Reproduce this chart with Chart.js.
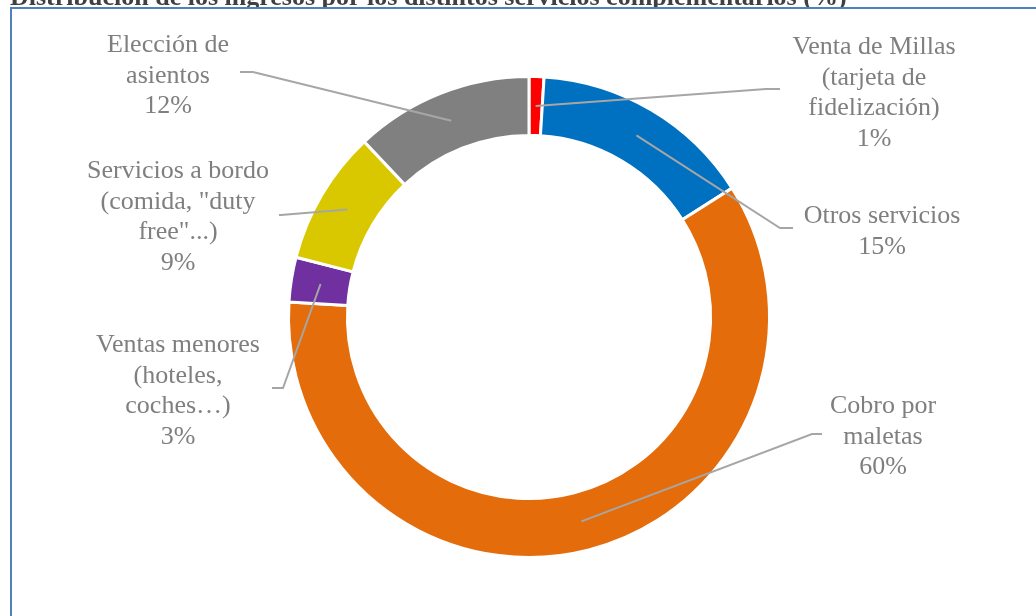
<!DOCTYPE html>
<html>
<head>
<meta charset="utf-8">
<script src="https://cdn.jsdelivr.net/npm/chart.js@4"></script>
<style>body{margin:0;background:#fff}</style>
</head>
<body>
<canvas id="donutChart" width="1036" height="616"></canvas>
<script>
const title = 'Distribución de los ingresos por los distintos servicios complementarios (%)';
const categories = [
    ['Venta de Millas', '(tarjeta de', 'fidelización)'],
    ['Otros servicios'],
    ['Cobro por', 'maletas'],
    ['Ventas menores', '(hoteles,', 'coches…)'],
    ['Servicios a bordo', '(comida, "duty', 'free"...)'],
    ['Elección de', 'asientos']
];
const shares = [1, 15, 60, 3, 9, 12];
const colors = ['#ff0000', '#0070c0', '#e46c0a', '#7030a0', '#d9c800', '#808080'];

// label text centre + first baseline, leader elbow and leader end
const labelPos = [
    { x: 874, y: 54, ex: 766, ey: 89, tx: 780 },
    { x: 882, y: 223, ex: 780, ey: 228, tx: 793 },
    { x: 883, y: 413, ex: 812, ey: 434, tx: 822 },
    { x: 178, y: 352, ex: 283, ey: 388, tx: 272 },
    { x: 178, y: 178, ex: 281, ey: 215, tx: 279 },
    { x: 168, y: 52, ex: 253, ey: 72, tx: 240 }
];

const serif = '"Liberation Serif", "Times New Roman", serif';

const framePlugin = {
    id: 'frame',
    beforeDraw(chart) {
        const ctx = chart.ctx;
        ctx.save();
        ctx.fillStyle = '#fff';
        ctx.fillRect(0, 0, chart.width, chart.height);
        ctx.fillStyle = '#404040';
        ctx.font = 'bold 26px ' + serif;
        ctx.textBaseline = 'alphabetic';
        ctx.fillText(title, 10, 5);
        ctx.fillStyle = '#fff';
        ctx.fillRect(0, 7, chart.width, chart.height);
        ctx.fillStyle = '#4f81bd';
        ctx.fillRect(10, 7, chart.width - 10, 2);
        ctx.fillRect(10, 7, 2, chart.height - 7);
        ctx.restore();
    }
};

const labelPlugin = {
    id: 'sliceLabels',
    afterDatasetsDraw(chart) {
        const ctx = chart.ctx;
        const arcs = chart.getDatasetMeta(0).data;
        ctx.save();
        ctx.strokeStyle = '#a6a6a6';
        ctx.lineWidth = 2;
        arcs.forEach((arc, i) => {
            const p = arc.getCenterPoint();
            const l = labelPos[i];
            ctx.beginPath();
            ctx.moveTo(p.x, p.y);
            ctx.lineTo(l.ex, l.ey);
            ctx.lineTo(l.tx, l.ey);
            ctx.stroke();
        });
        ctx.fillStyle = '#7f7f7f';
        ctx.font = '26px ' + serif;
        ctx.textAlign = 'center';
        ctx.textBaseline = 'alphabetic';
        categories.forEach((lines, i) => {
            const l = labelPos[i];
            lines.concat([shares[i] + '%']).forEach((t, j) => {
                ctx.fillText(t, l.x, l.y + j * 30.5);
            });
        });
        ctx.restore();
    }
};

new Chart(document.getElementById('donutChart'), {
    type: 'doughnut',
    data: {
        labels: categories.map(c => c.join(' ')),
        datasets: [{
            data: shares,
            backgroundColor: colors,
            borderColor: '#ffffff',
            borderWidth: 3
        }]
    },
    options: {
        responsive: false,
        animation: false,
        radius: 240.5,
        cutout: '75.5%',
        layout: { padding: { left: 22, top: 18 } },
        plugins: {
            legend: { display: false },
            tooltip: { enabled: false }
        }
    },
    plugins: [framePlugin, labelPlugin]
});
</script>
</body>
</html>
